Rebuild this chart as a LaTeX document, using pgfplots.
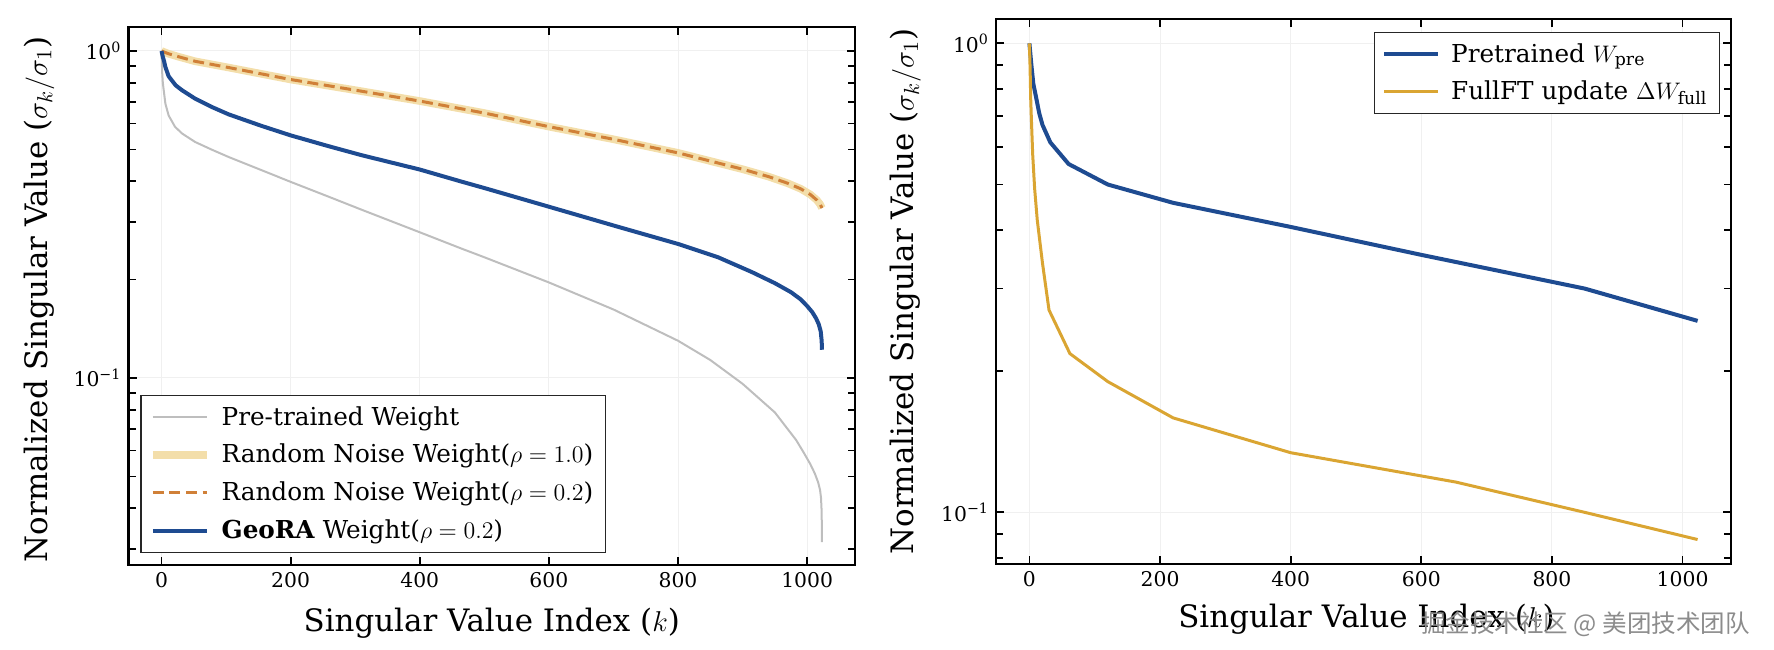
\documentclass[border=0pt]{standalone}
\usepackage{pgfplots}
\pgfplotsset{compat=1.18}
\usepackage{fontspec}
\setmainfont{DejaVu Serif}
\newfontfamily\cjk{Noto Sans CJK SC}
\definecolor{cgray}{RGB}{190,190,190}
\definecolor{cband}{RGB}{243,222,170}
\definecolor{cdash}{RGB}{208,128,56}
\definecolor{cblue}{RGB}{30,75,145}
\definecolor{cgold}{RGB}{218,165,50}
\pgfplotsset{
  mybase/.style={
    scale only axis,
    xmin=-51.15, xmax=1074.15,
    axis line style={line width=1.2bp, black},
    every tick/.style={line width=0.9bp, black},
    major tick length=4bp, minor tick length=3.5bp,
    tick align=inside,
    xtick={0,200,400,600,800,1000},
    xticklabels={0,200,400,600,800,1000},
    ytick={0.1,1},
    yticklabels={10\textsuperscript{−1},10\textsuperscript{0}},
    grid=major,
    major grid style={line width=0.5bp, color=black!6},
    tick label style={font=\fontsize{10.2}{12}\selectfont},
    label style={font=\fontsize{15.5}{17}\selectfont},
    xlabel={Singular Value Index ($k$)},
    ylabel={Normalized Singular Value ($\sigma_k/\sigma_1$)},
    legend cell align=left,
    legend image code/.code={\draw[##1] (0bp,0bp) -- (27bp,0bp);},
    legend style={font=\fontsize{12.4}{14}\selectfont, draw=black!85, line width=0.6bp,
      inner xsep=4bp, inner ysep=3.5bp, row sep=4bp, column sep=3.5bp},
  }
}
\begin{document}
\begin{tikzpicture}
\useasboundingbox (0,0) rectangle (887bp,325bp);
% ---------------- left panel
\begin{axis}[ymode=log, mybase,
  at={(64.25bp,42.5bp)}, anchor=south west,
  width=363.25bp, height=269bp,
  ymin=0.0268, ymax=1.184,
  minor ytick={0.03,0.04,0.05,0.06,0.07,0.08,0.09,0.2,0.3,0.4,0.5,0.6,0.7,0.8,0.9},
  xlabel style={at={(axis description cs:0.5,-0.108)}, anchor=center},
  ylabel style={at={(axis description cs:-0.1232,0.494)}, anchor=center},
  legend style={at={(axis description cs:0.0165,0.0223)}, anchor=south west},
]
\addplot[cgray, line width=1bp] coordinates {
(0,1.0) (1,0.86) (2,0.80) (3,0.77) (6,0.69) (11,0.635) (21,0.586) (32,0.559)
(52,0.527) (78,0.499) (104,0.474) (155,0.432) (200,0.398) (258,0.359) (310,0.327)
(400,0.279) (464,0.249) (500,0.234) (600,0.196) (700,0.162) (800,0.130)
(850,0.1135) (900,0.096) (950,0.0785) (983,0.0646) (995,0.059) (1005,0.0545)
(1012,0.051) (1017,0.048) (1020,0.0455) (1021.5,0.043) (1022.5,0.039) (1023,0.0315)};
\addlegendentry{Pre-trained Weight}
\addplot[cband, line width=3.8bp] coordinates {
(0,1.0) (10,0.982) (25,0.962) (52,0.93) (100,0.893) (200,0.818) (300,0.759)
(400,0.703) (500,0.646) (600,0.587) (700,0.537) (800,0.488) (900,0.435)
(940,0.413) (970,0.394) (990,0.379) (1005,0.364) (1015,0.350) (1020,0.340) (1023,0.331)};
\addlegendentry{Random Noise Weight($\rho=1.0$)}
\addplot[cdash, line width=1.5bp, dash pattern=on 5.5bp off 2.8bp] coordinates {
(0,1.0) (10,0.982) (25,0.962) (52,0.93) (100,0.893) (200,0.818) (300,0.759)
(400,0.703) (500,0.646) (600,0.587) (700,0.537) (800,0.488) (900,0.435)
(940,0.413) (970,0.394) (990,0.379) (1005,0.364) (1015,0.350) (1020,0.340) (1023,0.331)};
\addlegendentry{Random Noise Weight($\rho=0.2$)}
\addplot[cblue, line width=2bp] coordinates {
(0,1.0) (2,0.96) (4,0.93) (6,0.893) (11,0.837) (22,0.785) (32,0.758) (52,0.715)
(78,0.674) (104,0.640) (155,0.590) (200,0.552) (258,0.512) (310,0.480) (400,0.434)
(464,0.399) (500,0.381) (600,0.334) (707,0.290) (800,0.257) (862,0.234)
(914,0.211) (950,0.195) (975,0.183) (990,0.174) (1000,0.166) (1008,0.159)
(1014,0.152) (1018,0.146) (1021,0.139) (1022.5,0.130) (1023,0.122)};
\addlegendentry{\textbf{GeoRA} Weight($\rho=0.2$)}
\end{axis}
% ---------------- right panel
\begin{axis}[ymode=log, mybase,
  at={(498bp,43bp)}, anchor=south west,
  width=367.5bp, height=272.5bp,
  ymin=0.0776, ymax=1.127,
  minor ytick={0.08,0.09,0.2,0.3,0.4,0.5,0.6,0.7,0.8,0.9},
  xlabel style={at={(axis description cs:0.504,-0.101)}, anchor=center},
  ylabel style={at={(axis description cs:-0.123,0.5)}, anchor=center},
  legend style={at={(axis description cs:0.985,0.9767)}, anchor=north east},
]
\addplot[cblue, line width=2bp] coordinates {
(0,1.0) (3,0.9) (6,0.82) (10,0.77) (15,0.71) (20,0.67) (32,0.615) (60,0.553)
(120,0.500) (220,0.457) (400,0.406) (600,0.354) (850,0.300) (1023,0.256)};
\addlegendentry{Pretrained $W_{\mathrm{pre}}$}
\addplot[cgold, line width=1.5bp] coordinates {
(0,1.0) (1,0.89) (2,0.76) (3,0.69) (5,0.58) (8,0.49) (12,0.42) (20,0.34)
(30,0.27) (62,0.218) (120,0.19) (220,0.159) (400,0.134) (653,0.116)
(850,0.100) (1023,0.0875)};
\addlegendentry{FullFT update $\Delta W_{\mathrm{full}}$}
\end{axis}
\node[text=black!45, font=\cjk\fontsize{12.3}{14}\selectfont] at (792.7bp,13bp) {掘金技术社区 @ 美团技术团队};
\end{tikzpicture}
\end{document}
